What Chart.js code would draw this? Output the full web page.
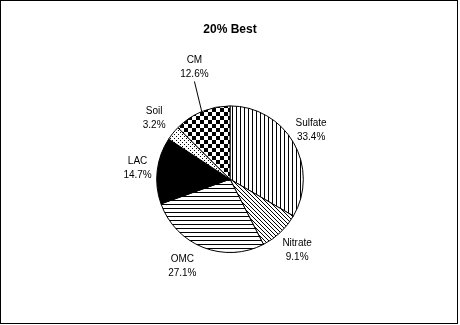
<!DOCTYPE html>
<html>
<head>
<meta charset="utf-8">
<script src="https://cdn.jsdelivr.net/npm/chart.js@4/dist/chart.umd.min.js"></script>
<style>
  html, body { margin: 0; padding: 0; background: #fff; }
  #wrap { width: 460px; height: 325px; }
</style>
</head>
<body>
<div id="wrap"><canvas id="bestChart" width="460" height="325"></canvas></div>
<script>
// 20% Best - 성분별 비율
const categories = ['Sulfate', 'Nitrate', 'OMC', 'LAC', 'Soil', 'CM'];
const shares = [33.4, 9.1, 27.1, 14.7, 3.2, 12.6];
const shareLabels = ['33.4%', '9.1%', '27.1%', '14.7%', '3.2%', '12.6%'];
const chartTitle = '20% Best';

// 흑백 패턴 만들기
function makePattern(kind) {
  const c = document.createElement('canvas');
  c.width = 4; c.height = 4;
  const g = c.getContext('2d');
  g.fillStyle = '#fff';
  g.fillRect(0, 0, 4, 4);
  g.fillStyle = '#000';
  if (kind === 'vert') {
    g.fillRect(0, 0, 1, 4);
  } else if (kind === 'diag') {
    for (let i = 0; i < 4; i++) g.fillRect(i, i, 1, 1);
  } else if (kind === 'horiz') {
    g.fillRect(0, 0, 4, 1);
  } else if (kind === 'dots') {
    g.fillRect(0, 0, 1, 1);
    g.fillRect(2, 2, 1, 1);
  } else if (kind === 'check') {
    c.width = 8; c.height = 8;
    g.fillStyle = '#fff'; g.fillRect(0, 0, 8, 8);
    g.fillStyle = '#000';
    g.fillRect(0, 0, 4, 4);
    g.fillRect(4, 4, 4, 4);
  } else if (kind === 'solid') {
    g.fillRect(0, 0, 4, 4);
  }
  return g.createPattern(c, 'repeat');
}
const fills = ['vert', 'diag', 'horiz', 'solid', 'dots', 'check'].map(makePattern);

// 라벨 위치 조정 (각도 deg, 반지름 배율)
const labelTweak = {
  default: { dAngle: 0, factor: 1.3 },
  Sulfate: { dAngle: -1, factor: 1.29 },
  Nitrate: { dAngle: 0, factor: 1.33 },
  OMC: { dAngle: 7, factor: 1.36 },
  LAC: { dAngle: 0, factor: 1.27 },
  Soil: { dAngle: 0, factor: 1.33 },
  CM: { dAngle: 5, factor: 1.6, leader: true }
};

const sliceLabels = {
  id: 'sliceLabels',
  afterDatasetsDraw(chart) {
    const ctx = chart.ctx;
    const arcs = chart.getDatasetMeta(0).data;
    ctx.save();
    ctx.font = '10px Arial, "Liberation Sans", sans-serif';
    ctx.fillStyle = '#000';
    ctx.textAlign = 'center';
    ctx.textBaseline = 'middle';
    arcs.forEach((arc, i) => {
      const p = arc.getProps(['x', 'y', 'startAngle', 'endAngle', 'outerRadius'], true);
      const t = labelTweak[categories[i]] || labelTweak.default;
      const mid = (p.startAngle + p.endAngle) / 2;
      const a = mid + t.dAngle * Math.PI / 180;
      const lx = p.x + Math.cos(a) * p.outerRadius * t.factor;
      const ly = p.y + Math.sin(a) * p.outerRadius * t.factor;
      ctx.fillText(categories[i], lx, ly - 7);
      ctx.fillText(shareLabels[i], lx, ly + 7);
      if (t.leader) {
        ctx.strokeStyle = '#000';
        ctx.lineWidth = 1;
        ctx.beginPath();
        ctx.moveTo(lx, ly + 14);
        ctx.lineTo(p.x + Math.cos(mid) * p.outerRadius, p.y + Math.sin(mid) * p.outerRadius);
        ctx.stroke();
      }
    });
    ctx.restore();
  },
  afterDraw(chart) {
    // 바깥 테두리
    const ctx = chart.ctx;
    ctx.save();
    ctx.strokeStyle = '#000';
    ctx.lineWidth = 1;
    ctx.strokeRect(0.5, 0.5, 457, 323);
    ctx.restore();
  }
};

const ctx = document.getElementById('bestChart');
const bestChart = new Chart(ctx, {
  type: 'pie',
  data: {
    labels: categories,
    datasets: [{
      data: shares,
      backgroundColor: fills,
      borderColor: '#000',
      borderWidth: 1
    }]
  },
  options: {
    responsive: false,
    animation: false,
    events: [],
    layout: { padding: { top: 0, bottom: 72, left: 100, right: 100 } },
    plugins: {
      legend: { display: false },
      tooltip: { enabled: false },
      title: {
        display: true,
        text: chartTitle,
        color: '#000',
        font: { family: 'Arial, "Liberation Sans", sans-serif', size: 12, weight: 'bold', lineHeight: 1.2 },
        padding: { top: 22, bottom: 69 }
      }
    }
  },
  plugins: [sliceLabels]
});
</script>
</body>
</html>
